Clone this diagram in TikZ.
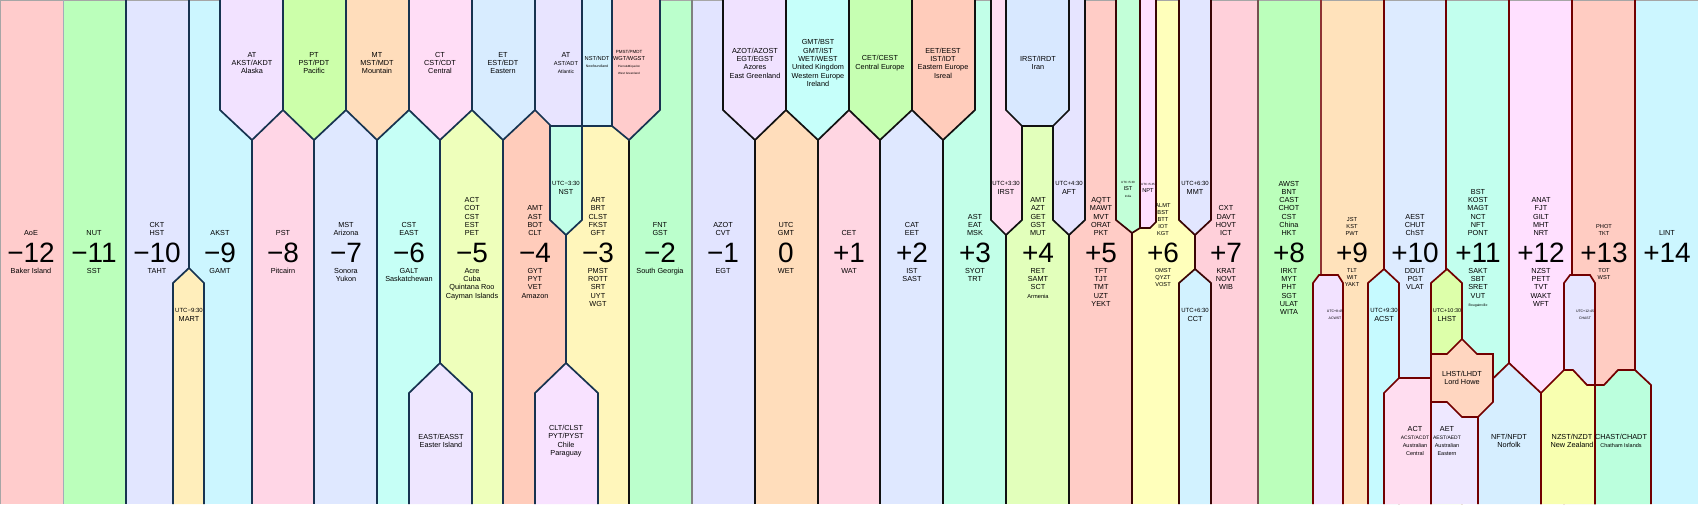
\documentclass[tikz,border=0pt]{standalone}
\usepackage{fontspec}
\setmainfont{Liberation Sans}
\usetikzlibrary{positioning}

% hour columns, -12 ... +14
\definecolor{cm12}{HTML}{FFCCCC}
\definecolor{cm11}{HTML}{BBFFBB}
\definecolor{cm10}{HTML}{E2E6FF}
\definecolor{cm9}{HTML}{CCF6FF}
\definecolor{cm8}{HTML}{FFD6E6}
\definecolor{cm7}{HTML}{DFE8FF}
\definecolor{cm6}{HTML}{C6FFF6}
\definecolor{cm5}{HTML}{EEFFBB}
\definecolor{cm4}{HTML}{FFCCBB}
\definecolor{cm3}{HTML}{FFF6BB}
\definecolor{cm2}{HTML}{BBFFCC}
\definecolor{cm1}{HTML}{E2E4FF}
\definecolor{cz}{HTML}{FFDDBB}
\definecolor{cp1}{HTML}{FFD6E2}
\definecolor{cp2}{HTML}{DFE8FF}
\definecolor{cp3}{HTML}{C2FFE8}
\definecolor{cp4}{HTML}{E2FFBB}
\definecolor{cp5}{HTML}{FFCCC6}
\definecolor{cp6}{HTML}{FFFFBB}
\definecolor{cp7}{HTML}{FFD0DA}
\definecolor{cp8}{HTML}{BBFFBB}
\definecolor{cp9}{HTML}{FFE2BB}
\definecolor{cp10}{HTML}{DDEBFF}
\definecolor{cp11}{HTML}{C2FFEE}
\definecolor{cp12}{HTML}{FFE0FF}
\definecolor{cp13}{HTML}{FFCCC2}
\definecolor{cp14}{HTML}{CCF6FF}

% daylight saving and half hour zones
\definecolor{cAlaska}{HTML}{F2E2FF}
\definecolor{cPacific}{HTML}{CCFFAA}
\definecolor{cMountain}{HTML}{FFDDBB}
\definecolor{cCentral}{HTML}{FFDDF6}
\definecolor{cEastern}{HTML}{D8ECFF}
\definecolor{cAtlantic}{HTML}{E8E4FF}
\definecolor{cNewf}{HTML}{D2F2FF}
\definecolor{cPierre}{HTML}{FFCCCC}
\definecolor{cNst}{HTML}{C2FFE8}
\definecolor{cMart}{HTML}{FFEEBB}
\definecolor{cEaster}{HTML}{EEE6FF}
\definecolor{cChile}{HTML}{F8E2FF}
\definecolor{cAzores}{HTML}{F0E2FF}
\definecolor{cBritish}{HTML}{C6FFFA}
\definecolor{cCentEu}{HTML}{C6FFB2}
\definecolor{cEastEu}{HTML}{FFCCBB}
\definecolor{cIrst}{HTML}{FFDDF2}
\definecolor{cIran}{HTML}{D8E8FF}
\definecolor{cAft}{HTML}{E6E4FF}
\definecolor{cIndia}{HTML}{C2FFD8}
\definecolor{cNepal}{HTML}{FFE0FF}
\definecolor{cMmt}{HTML}{E2E6FF}
\definecolor{cCct}{HTML}{D2F2FF}
\definecolor{cAcwst}{HTML}{F2E2FF}
\definecolor{cAcst}{HTML}{C6FAFF}
\definecolor{cAct}{HTML}{FFDDF0}
\definecolor{cLhst}{HTML}{DDFFAA}
\definecolor{cHowe}{HTML}{FFD6C0}
\definecolor{cAet}{HTML}{EEE8FF}
\definecolor{cNorfolk}{HTML}{D6EEFF}
\definecolor{cNz}{HTML}{F8FFB0}
\definecolor{cChast}{HTML}{E6E6FF}
\definecolor{cChatham}{HTML}{BBFFDD}

% border colours
\definecolor{lnavy}{HTML}{173350}
\definecolor{lblack}{HTML}{111111}
\definecolor{lbrown}{HTML}{3A0505}
\definecolor{lred}{HTML}{720000}

\tikzset{
  band/.style={line width=1.7pt, draw=#1},
  zone/.style={fill=#1, line width=1.7pt, line join=miter},
  lab/.style={align=center, inner sep=0pt, font=\fontsize{7.3}{8.3}\selectfont},
  labsm/.style={align=center, inner sep=0pt, font=\fontsize{5.7}{7}\selectfont},
  labtiny/.style={align=center, inner sep=0pt, font=\fontsize{3.5}{6.5}\selectfont},
  toplab/.style={lab, anchor=south},
  botlab/.style={lab, anchor=north},
  hour/.style={inner sep=0pt, anchor=base, font=\fontsize{28}{28}\selectfont},
}

\begin{document}
\begin{tikzpicture}[x=1pt, y=-1pt]

\useasboundingbox (0,0) rectangle (1698,504);

% 1. Hour columns
\fill[cm12] (0,0) rectangle (63,504);
\fill[cm11] (63,0) rectangle (126,504);
\fill[cm10] (126,0) rectangle (189,504);
\fill[cm9] (189,0) rectangle (252,504);
\fill[cm8] (252,0) rectangle (314,504);
\fill[cm7] (314,0) rectangle (377,504);
\fill[cm6] (377,0) rectangle (440,504);
\fill[cm5] (440,0) rectangle (503,504);
\fill[cm4] (503,0) rectangle (566,504);
\fill[cm3] (566,0) rectangle (629,504);
\fill[cm2] (629,0) rectangle (692,504);
\fill[cm1] (692,0) rectangle (755,504);
\fill[cz] (755,0) rectangle (818,504);
\fill[cp1] (818,0) rectangle (880,504);
\fill[cp2] (880,0) rectangle (943,504);
\fill[cp3] (943,0) rectangle (1006,504);
\fill[cp4] (1006,0) rectangle (1069,504);
\fill[cp5] (1069,0) rectangle (1132,504);
\fill[cp6] (1132,0) rectangle (1195,504);
\fill[cp7] (1195,0) rectangle (1258,504);
\fill[cp8] (1258,0) rectangle (1321,504);
\fill[cp9] (1321,0) rectangle (1384,504);
\fill[cp10] (1384,0) rectangle (1446,504);
\fill[cp11] (1446,0) rectangle (1509,504);
\fill[cp12] (1509,0) rectangle (1572,504);
\fill[cp13] (1572,0) rectangle (1635,504);
\fill[cp14] (1635,0) rectangle (1698,504);

% frame at top and left
\draw[gray!70, line width=1pt] (0.5,504) -- (0.5,0.5) -- (1698,0.5);

% 2. Borders between the columns
\draw[band=lnavy!40, line width=1pt] (63,0) -- (63,504);
\draw[band=lnavy] (126,0) -- (126,504);
\draw[band=lnavy] (189,0) -- (189,504);
\draw[band=lnavy] (252,0) -- (252,504);
\draw[band=lnavy] (314,0) -- (314,504);
\draw[band=lnavy] (377,0) -- (377,504);
\draw[band=lnavy] (440,0) -- (440,504);
\draw[band=lnavy] (503,0) -- (503,504);
\draw[band=lnavy] (566,0) -- (566,504);
\draw[band=lblack] (629,0) -- (629,504);
\draw[band=gray, line width=1.2pt] (692,0) -- (692,504);
\draw[band=lblack] (755,0) -- (755,504);
\draw[band=lblack] (818,0) -- (818,504);
\draw[band=lblack] (880,0) -- (880,504);
\draw[band=lblack] (943,0) -- (943,504);
\draw[band=lblack] (1006,0) -- (1006,504);
\draw[band=lblack] (1069,0) -- (1069,504);
\draw[band=lbrown] (1132,0) -- (1132,504);
\draw[band=lbrown] (1195,0) -- (1195,504);
\draw[band=lbrown!70, line width=1.2pt] (1258,0) -- (1258,504);
\draw[band=lred!80, line width=1.4pt] (1321,0) -- (1321,504);
\draw[band=lred] (1384,0) -- (1384,504);
\draw[band=lred] (1446,0) -- (1446,504);
\draw[band=lred] (1509,0) -- (1509,504);
\draw[band=lred] (1572,0) -- (1572,504);
\draw[band=lred] (1635,0) -- (1635,504);

% 3. Daylight saving zones at the top
\filldraw[zone=cAlaska, draw=lnavy] (220,0) -- (220,110) -- (252,140) -- (283,110) -- (283,0);
\filldraw[zone=cPacific, draw=lnavy] (283,0) -- (283,110) -- (314,140) -- (346,110) -- (346,0);
\filldraw[zone=cMountain, draw=lnavy] (346,0) -- (346,110) -- (377,140) -- (409,110) -- (409,0);
\filldraw[zone=cCentral, draw=lnavy] (409,0) -- (409,110) -- (440,140) -- (472,110) -- (472,0);
\filldraw[zone=cEastern, draw=lnavy] (472,0) -- (472,110) -- (503,140) -- (535,110) -- (535,0);
\filldraw[zone=cPierre, draw=lnavy] (612,0) -- (612,126) -- (629,140) -- (660,110) -- (660,0);
\filldraw[zone=cAtlantic, draw=lnavy] (535,0) -- (535,110) -- (551,126) -- (582,126) -- (582,0);
\filldraw[zone=cNst, draw=lnavy] (550,126) -- (582,126) -- (582,220) -- (566,235) -- (550,220) -- cycle;
\filldraw[zone=cNewf, draw=lnavy] (582,0) -- (582,126) -- (612,126) -- (612,0);
\filldraw[zone=cAzores, draw=lblack] (723,0) -- (723,110) -- (755,140) -- (786,110) -- (786,0);
\filldraw[zone=cBritish, draw=lblack] (786,0) -- (786,110) -- (818,140) -- (849,110) -- (849,0);
\filldraw[zone=cCentEu, draw=lblack] (849,0) -- (849,110) -- (880,140) -- (912,110) -- (912,0);
\filldraw[zone=cEastEu, draw=lblack] (912,0) -- (912,110) -- (943,140) -- (975,110) -- (975,0);
\filldraw[zone=cIrst, draw=lblack] (991,0) -- (991,220) -- (1006,235) -- (1022,220) -- (1022,0);
\filldraw[zone=cAft, draw=lblack] (1053,0) -- (1053,220) -- (1069,235) -- (1085,220) -- (1085,0);
\filldraw[zone=cIran, draw=lblack] (1006,0) -- (1006,110) -- (1022,126) -- (1053,126) -- (1069,110) -- (1069,0);
\filldraw[zone=cIndia, draw=lbrown] (1116,0) -- (1116,220) -- (1132,233) -- (1140,228) -- (1140,0);
\filldraw[zone=cNepal, draw=lbrown] (1140,0) -- (1140,228) -- (1150,228) -- (1156,222) -- (1156,0);
\filldraw[zone=cMmt, draw=lbrown] (1179,0) -- (1179,220) -- (1195,235) -- (1211,220) -- (1211,0);

% 4. Zones at the bottom
\filldraw[zone=cMart, draw=lnavy] (173,504) -- (173,283) -- (189,268) -- (204,283) -- (204,504);
\filldraw[zone=cEaster, draw=lnavy] (409,504) -- (409,393) -- (440,363) -- (472,393) -- (472,504);
\filldraw[zone=cChile, draw=lnavy] (535,504) -- (535,393) -- (566,363) -- (598,393) -- (598,504);
\filldraw[zone=cCct, draw=lbrown] (1179,504) -- (1179,283) -- (1195,269) -- (1211,283) -- (1211,504);
\filldraw[zone=cAcwst, draw=lred] (1313,504) -- (1313,283) -- (1319,275) -- (1338,275) -- (1343,283) -- (1343,504);
\filldraw[zone=cAcst, draw=lred] (1368,504) -- (1368,283) -- (1384,269) -- (1399,283) -- (1399,504);
\filldraw[zone=cAct, draw=lred] (1384,504) -- (1384,393) -- (1399,378) -- (1431,378) -- (1431,504);
\filldraw[zone=cLhst, draw=lred] (1431,504) -- (1431,283) -- (1447,269) -- (1462,283) -- (1462,504);
\filldraw[zone=cAet, draw=lred] (1431,504) -- (1431,400) -- (1478,400) -- (1478,504);
\filldraw[zone=cNorfolk, draw=lred] (1478,504) -- (1478,393) -- (1509,363) -- (1541,393) -- (1541,504);
\filldraw[zone=cHowe, draw=lred] (1431,354) -- (1447,354) -- (1462,339) -- (1477,354) -- (1493,354) -- (1493,402) -- (1478,417) -- (1462,417) -- (1447,402) -- (1431,402) -- cycle;
\filldraw[zone=cChast, draw=lred] (1564,504) -- (1564,283) -- (1570,275) -- (1590,275) -- (1595,283) -- (1595,504);
\filldraw[zone=cNz, draw=lred] (1541,504) -- (1541,393) -- (1564,370) -- (1573,370) -- (1587,385) -- (1595,385) -- (1595,504);
\filldraw[zone=cChatham, draw=lred] (1595,504) -- (1595,385) -- (1604,385) -- (1618,370) -- (1635,370) -- (1651,385) -- (1651,504);

% 5. Hour numbers with the zones above and below them
\node[hour] (hm12) at (31,262) {−12};
\node[toplab] (tm12) at (31,236) {AoE};
\node[botlab] (bm12) at (31,268) {Baker Island};
\node[hour] (hm11) at (94,262) {−11};
\node[toplab] (tm11) at (94,236) {NUT};
\node[botlab] (bm11) at (94,268) {SST};
\node[hour] (hm10) at (157,262) {−10};
\node[toplab] (tm10) at (157,236) {CKT\\HST};
\node[botlab] (bm10) at (157,268) {TAHT};
\node[hour] (hm9) at (220,262) {−9};
\node[toplab] (tm9) at (220,236) {AKST};
\node[botlab] (bm9) at (220,268) {GAMT};
\node[hour] (hm8) at (283,262) {−8};
\node[toplab] (tm8) at (283,236) {PST};
\node[botlab] (bm8) at (283,268) {Pitcairn};
\node[hour] (hm7) at (346,262) {−7};
\node[toplab] (tm7) at (346,236) {MST\\Arizona};
\node[botlab] (bm7) at (346,268) {Sonora\\Yukon};
\node[hour] (hm6) at (409,262) {−6};
\node[toplab] (tm6) at (409,236) {CST\\EAST};
\node[botlab] (bm6) at (409,268) {GALT\\Saskatchewan};
\node[hour] (hm5) at (472,262) {−5};
\node[toplab] (tm5) at (472,236) {ACT\\COT\\CST\\EST\\PET};
\node[botlab] (bm5) at (472,268) {Acre\\Cuba\\Quintana Roo\\Cayman Islands};
\node[hour] (hm4) at (535,262) {−4};
\node[toplab] (tm4) at (535,236) {AMT\\AST\\BOT\\CLT};
\node[botlab] (bm4) at (535,268) {GYT\\PYT\\VET\\Amazon};
\node[hour] (hm3) at (598,262) {−3};
\node[toplab] (tm3) at (598,236) {ART\\BRT\\CLST\\FKST\\GFT};
\node[botlab] (bm3) at (598,268) {PMST\\ROTT\\SRT\\UYT\\WGT};
\node[hour] (hm2) at (660,262) {−2};
\node[toplab] (tm2) at (660,236) {FNT\\GST};
\node[botlab] (bm2) at (660,268) {South Georgia};
\node[hour] (hm1) at (723,262) {−1};
\node[toplab] (tm1) at (723,236) {AZOT\\CVT};
\node[botlab] (bm1) at (723,268) {EGT};
\node[hour] (hz) at (786,262) {0};
\node[toplab] (tz) at (786,236) {UTC\\GMT};
\node[botlab] (bz) at (786,268) {WET};
\node[hour] (hp1) at (849,262) {+1};
\node[toplab] (tp1) at (849,236) {CET};
\node[botlab] (bp1) at (849,268) {WAT};
\node[hour] (hp2) at (912,262) {+2};
\node[toplab] (tp2) at (912,236) {CAT\\EET};
\node[botlab] (bp2) at (912,268) {IST\\SAST};
\node[hour] (hp3) at (975,262) {+3};
\node[toplab] (tp3) at (975,236) {AST\\EAT\\MSK};
\node[botlab] (bp3) at (975,268) {SYOT\\TRT};
\node[hour] (hp4) at (1038,262) {+4};
\node[toplab] (tp4) at (1038,236) {AMT\\AZT\\GET\\GST\\MUT};
\node[botlab] (bp4) at (1038,268) {RET\\SAMT\\SCT\\{\fontsize{5.7}{7}\selectfont Armenia}};
\node[hour] (hp5) at (1101,262) {+5};
\node[toplab] (tp5) at (1101,236) {AQTT\\MAWT\\MVT\\ORAT\\PKT};
\node[botlab] (bp5) at (1101,268) {TFT\\TJT\\TMT\\UZT\\YEKT};
\node[hour] (hp6) at (1163,262) {+6};
\node[toplab, labsm] (tp6) at (1163,236) {ALMT\\BST\\BTT\\IOT\\KGT};
\node[botlab, labsm] (bp6) at (1163,268) {OMST\\QYZT\\VOST};
\node[hour] (hp7) at (1226,262) {+7};
\node[toplab] (tp7) at (1226,236) {CXT\\DAVT\\HOVT\\ICT};
\node[botlab] (bp7) at (1226,268) {KRAT\\NOVT\\WIB};
\node[hour] (hp8) at (1289,262) {+8};
\node[toplab] (tp8) at (1289,236) {AWST\\BNT\\CAST\\CHOT\\CST\\China\\HKT};
\node[botlab] (bp8) at (1289,268) {IRKT\\MYT\\PHT\\SGT\\ULAT\\WITA};
\node[hour] (hp9) at (1352,262) {+9};
\node[toplab, labsm] (tp9) at (1352,236) {JST\\KST\\PWT};
\node[botlab, labsm] (bp9) at (1352,268) {TLT\\WIT\\YAKT};
\node[hour] (hp10) at (1415,262) {+10};
\node[toplab] (tp10) at (1415,236) {AEST\\CHUT\\ChST};
\node[botlab] (bp10) at (1415,268) {DDUT\\PGT\\VLAT};
\node[hour] (hp11) at (1478,262) {+11};
\node[toplab] (tp11) at (1478,236) {BST\\KOST\\MAGT\\NCT\\NFT\\PONT};
\node[botlab] (bp11) at (1478,268) {SAKT\\SBT\\SRET\\VUT\\{\fontsize{3.5}{6}\selectfont Bougainville}};
\node[hour] (hp12) at (1541,262) {+12};
\node[toplab] (tp12) at (1541,236) {ANAT\\FJT\\GILT\\MHT\\NRT};
\node[botlab] (bp12) at (1541,268) {NZST\\PETT\\TVT\\WAKT\\WFT};
\node[hour] (hp13) at (1604,262) {+13};
\node[toplab, labsm] (tp13) at (1604,236) {PHOT\\TKT};
\node[botlab, labsm] (bp13) at (1604,268) {TOT\\WST};
\node[hour] (hp14) at (1667,262) {+14};
\node[toplab] (tp14) at (1667,236) {LINT};

% 6. Names of the shifted zones
\node[lab] (lalaska) at (252,63) {AT\\AKST/AKDT\\Alaska};
\node[lab] (lpacific) at (314,63) {PT\\PST/PDT\\Pacific};
\node[lab] (lmountain) at (377,63) {MT\\MST/MDT\\Mountain};
\node[lab] (lcentral) at (440,63) {CT\\CST/CDT\\Central};
\node[lab] (leastern) at (503,63) {ET\\EST/EDT\\Eastern};
\node[lab] (latlantic) at (566,63) {AT\\{\fontsize{5.7}{7}\selectfont AST/ADT}\\{\fontsize{5}{6}\selectfont Atlantic}};
\node[labsm] (lnewf) at (597,62) {NST/NDT\\{\fontsize{3.5}{6}\selectfont Newfoundland}};
\node[labsm] (lpierre) at (629,62) {{\fontsize{4.5}{6}\selectfont PMST/PMDT}\\WGT/WGST\\{\fontsize{3}{6.5}\selectfont Pierre\&Miquelon}\\{\fontsize{3}{6.5}\selectfont West Greenland}};
\node[lab] (lnst) at (566,188) {{\fontsize{6}{7}\selectfont UTC−3:30}\\NST};
\node[lab] (lmart) at (189,315) {{\fontsize{6}{7}\selectfont UTC−9:30}\\MART};
\node[lab] (leaster) at (441,441) {EAST/EASST\\Easter Island};
\node[lab] (lchile) at (566,441) {CLT/CLST\\PYT/PYST\\Chile\\Paraguay};
\node[lab] (lazores) at (755,63) {AZOT/AZOST\\EGT/EGST\\Azores\\East Greenland};
\node[lab] (lbritish) at (818,63) {GMT/BST\\GMT/IST\\WET/WEST\\United Kingdom\\Western Europe\\Ireland};
\node[lab] (lcenteu) at (880,63) {CET/CEST\\Central Europe};
\node[lab] (leasteu) at (943,63) {EET/EEST\\IST/IDT\\Eastern Europe\\Isreal};
\node[lab] (lirst) at (1006,188) {{\fontsize{6}{7}\selectfont UTC+3:30}\\IRST};
\node[lab] (liran) at (1038,63) {IRST/IRDT\\Iran};
\node[lab] (laft) at (1069,188) {{\fontsize{6}{7}\selectfont UTC+4:30}\\AFT};
\node[labsm] (lindia) at (1128,189) {{\fontsize{3}{6}\selectfont UTC+5:30}\\IST\\{\fontsize{3}{6}\selectfont India}};
\node[labsm] (lnepal) at (1148,188) {{\fontsize{3}{6}\selectfont UTC+5:45}\\NPT};
\node[lab] (lmmt) at (1195,188) {{\fontsize{6}{7}\selectfont UTC+6:30}\\MMT};
\node[lab] (lcct) at (1195,315) {{\fontsize{6}{7}\selectfont UTC+6:30}\\CCT};
\node[labtiny] (lacwst) at (1335,315) {UTC+8:45\\ACWST};
\node[lab] (lacst) at (1384,315) {{\fontsize{6}{7}\selectfont UTC+9:30}\\ACST};
\node[lab] (lact) at (1415,441) {ACT\\{\fontsize{5}{8.3}\selectfont ACST/ACDT}\\{\fontsize{5.5}{8.3}\selectfont Australian}\\{\fontsize{5.5}{8.3}\selectfont Central}};
\node[lab] (llhst) at (1447,315) {{\fontsize{5.5}{7}\selectfont UTC+10:30}\\LHST};
\node[lab] (lhowe) at (1462,378) {LHST/LHDT\\Lord Howe};
\node[lab] (laet) at (1447,441) {AET\\{\fontsize{5}{8.3}\selectfont AEST/AEDT}\\{\fontsize{5.5}{8.3}\selectfont Australian}\\{\fontsize{5.5}{8.3}\selectfont Eastern}};
\node[lab] (lnorfolk) at (1509,441) {NFT/NFDT\\Norfolk};
\node[lab] (lnz) at (1572,441) {NZST/NZDT\\New Zealand};
\node[labtiny] (lchast) at (1585,315) {UTC+12:45\\CHAST};
\node[lab] (lchatham) at (1621,441) {CHAST/CHADT\\{\fontsize{5.5}{8.3}\selectfont Chatham Islands}};

\end{tikzpicture}
\end{document}
